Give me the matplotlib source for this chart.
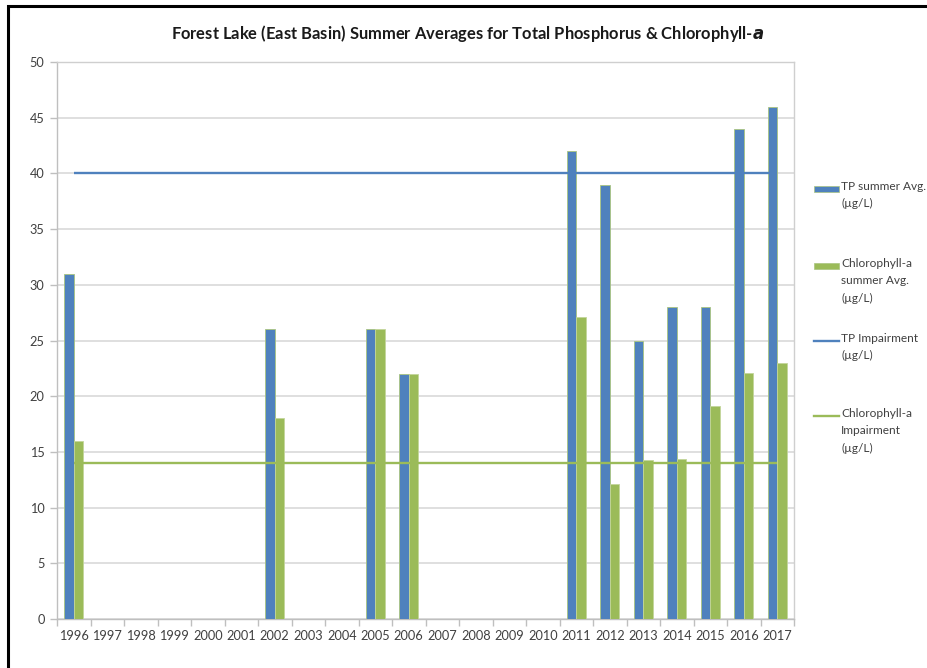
import numpy as np
import matplotlib
matplotlib.use("Agg")
import matplotlib.pyplot as plt
from matplotlib.patches import Rectangle
from matplotlib.lines import Line2D

# --- data ---
years = list(range(1996, 2018))
tp_avg = [31, None, None, None, None, None, 26, None, None, 26, 22,
          None, None, None, None, 42, 39, 25, 28, 28, 44, 46]
chl_avg = [16, None, None, None, None, None, 18, None, None, 26, 22,
           None, None, None, None, 27.1, 12.1, 14.3, 14.4, 19.1, 22.1, 23.0]
tp_impairment = [40] * len(years)
chl_impairment = [14] * len(years)

BLUE = "#4f81bd"
GREEN = "#9bbb59"
GRID = "#d9d9d9"
TXT = "#404040"

plt.rcParams["font.family"] = ["Lato", "DejaVu Sans"]

fig = plt.figure(figsize=(9.27, 6.68), dpi=100)
ax = fig.add_axes([57 / 927, 1 - 619 / 668, (794 - 57) / 927, (619 - 62) / 668])

x = np.arange(len(years))
tp = np.array([np.nan if v is None else v for v in tp_avg], dtype=float)
chl = np.array([np.nan if v is None else v for v in chl_avg], dtype=float)
w = 0.28

ax.bar(x - w / 2, tp, w, color=BLUE, edgecolor="#a9c47f", linewidth=0.6, zorder=3)
ax.bar(x + w / 2, chl, w, color=GREEN, edgecolor="#c3d69b", linewidth=0.6, zorder=3)
ax.plot(x, tp_impairment, color=BLUE, lw=1.7, zorder=4, solid_capstyle="butt")
ax.plot(x, chl_impairment, color=GREEN, lw=1.7, zorder=4, solid_capstyle="butt")

ax.set_xlim(-0.5, len(years) - 0.5)
ax.set_ylim(0, 50)
ax.set_yticks(range(0, 51, 5))
ax.set_xticks(x)
ax.set_xticklabels([str(y) for y in years])
ax.set_xticks(np.arange(-0.5, len(years), 1), minor=True)
ax.tick_params(axis="x", which="major", length=0, pad=8, labelsize=9.2, labelcolor=TXT)
ax.tick_params(axis="x", which="minor", length=5, color="#bfbfbf", width=1)
ax.tick_params(axis="y", length=5, color="#bfbfbf", width=1, pad=4,
               labelsize=9.2, labelcolor=TXT)
ax.yaxis.grid(True, color=GRID, lw=1.2, zorder=0)
ax.set_axisbelow(True)
for s in ax.spines.values():
    s.set_color("#cfcfcf")
    s.set_linewidth(1)
ax.spines["left"].set_color("#bfbfbf")
ax.spines["bottom"].set_color("#bfbfbf")

fig.text(468 / 927, 1 - 33 / 668,
         "Forest Lake (East Basin) Summer Averages for Total Phosphorus & Chlorophyll-$\\mathbfit{a}$",
         ha="center", va="center", fontsize=11.9, fontweight="bold", color="#1a1a1a")

# legend (Excel-style, handle aligned to first line)
entries = [
    ("patch", BLUE, "TP summer Avg.\n(µg/L)", 189),
    ("patch", GREEN, "Chlorophyll-a\nsummer Avg.\n(µg/L)", 266),
    ("line", BLUE, "TP Impairment\n(µg/L)", 341),
    ("line", GREEN, "Chlorophyll-a\nImpairment\n(µg/L)", 416),
]
for kind, col, label, yp in entries:
    yf = 1 - yp / 668
    if kind == "patch":
        fig.patches.append(Rectangle((814 / 927, yf - 3 / 668), 25 / 927, 6 / 668,
                                     transform=fig.transFigure, facecolor=col,
                                     edgecolor="#a9c47f", lw=0.5))
    else:
        fig.lines.append(Line2D([814 / 927, 839 / 927], [yf, yf],
                                transform=fig.transFigure, color=col, lw=1.7))
    fig.text(841 / 927, yf + 8 / 668, label, ha="left", va="top",
             fontsize=8.6, color=TXT, linespacing=1.7)

# outer black frame (cut off at right/bottom like the screenshot)
fig.patches.append(Rectangle((8 / 927, -0.1), 1.2, 1.1 - 6 / 668,
                             transform=fig.transFigure, fill=False,
                             edgecolor="black", lw=2.2))

fig.savefig("out.png", dpi=100)
